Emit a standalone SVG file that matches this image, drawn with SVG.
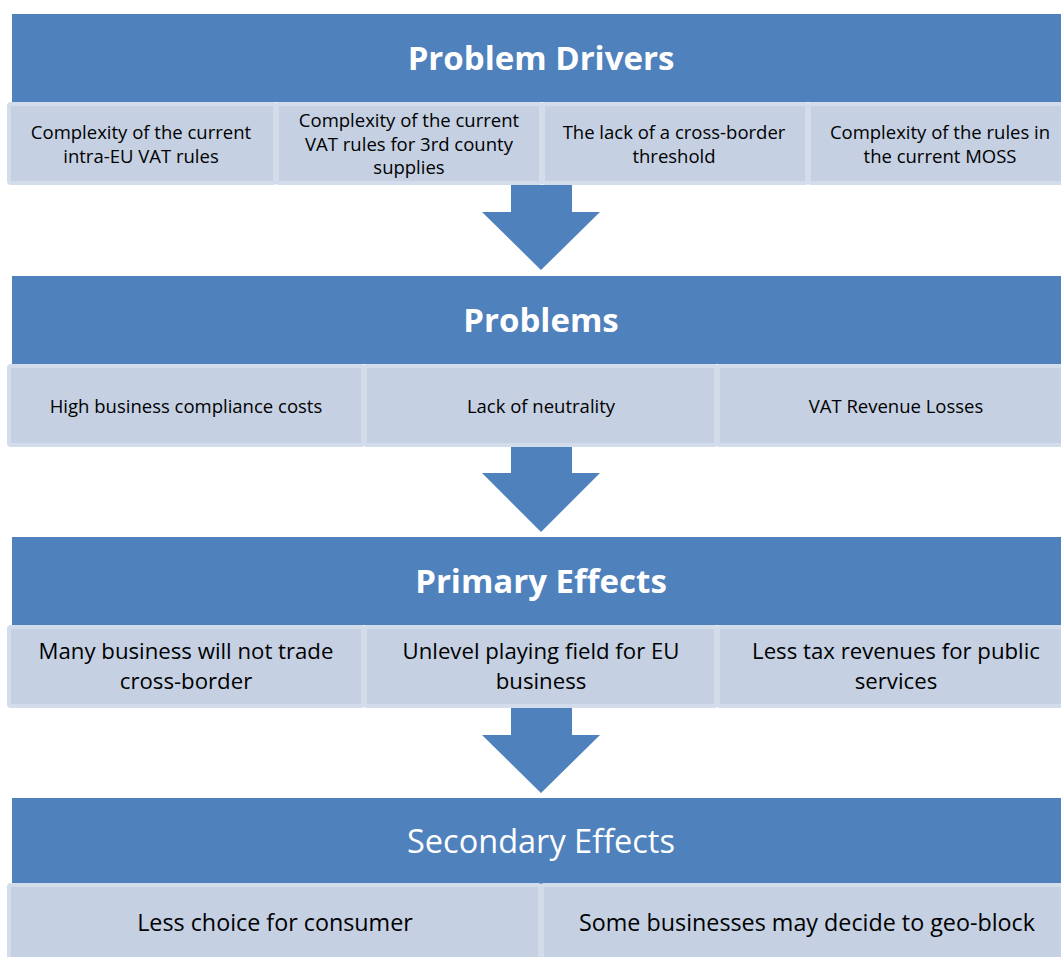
<svg xmlns="http://www.w3.org/2000/svg" width="1061" height="957" viewBox="0 0 1061 957">
<style>
.hdr{fill:#4F81BD}
.box{fill:#C5D0E3;stroke:#D3DCEB;stroke-width:4}
.arrow{fill:#4F81BD}
.title{font-family:"Open Sans","Liberation Sans",sans-serif;font-size:32.5px;fill:#fff;text-anchor:middle;dominant-baseline:central}
.b{font-weight:bold;font-size:33px}
.t1{font-family:"Open Sans","Liberation Sans",sans-serif;font-size:18.5px;fill:#000;text-anchor:middle;dominant-baseline:central}
.t2{font-family:"Open Sans","Liberation Sans",sans-serif;font-size:23.3px;fill:#000;text-anchor:middle;dominant-baseline:central}
.t3{font-family:"Open Sans","Liberation Sans",sans-serif;font-size:22.2px;fill:#000;text-anchor:middle;dominant-baseline:central}
</style>
<rect width="1061" height="957" fill="#fff"/>
<g id="connectors">
<polygon class="arrow" points="511,185 572,185 572,212 600,212 541,270 482,212 511,212"/>
<polygon class="arrow" points="511,447 572,447 572,473 600,473 541,532 482,473 511,473"/>
<polygon class="arrow" points="511,708 572,708 572,735 600,735 541,793 482,735 511,735"/>
</g>
<g id="problem-drivers">
<rect class="hdr" x="12" y="14" width="1062" height="88"/>
<text class="title b" x="541" y="57">Problem Drivers</text>
</g>
<g id="pd1"><rect class="box" x="9" y="104" width="266" height="79" rx="2"/>
<text class="t1" x="141" y="131">Complexity of the current</text><text class="t1" x="141" y="155">intra-EU VAT rules</text></g>
<g id="pd2"><rect class="box" x="277" y="104" width="264" height="79" rx="2"/>
<text class="t1" x="409" y="119">Complexity of the current</text><text class="t1" x="409" y="143">VAT rules for 3rd county</text><text class="t1" x="409" y="166">supplies</text></g>
<g id="pd3"><rect class="box" x="543" y="104" width="264" height="79" rx="2"/>
<text class="t1" x="674" y="131">The lack of a cross-border</text><text class="t1" x="674" y="155">threshold</text></g>
<g id="pd4"><rect class="box" x="809" y="104" width="264" height="79" rx="2"/>
<text class="t1" x="940" y="131">Complexity of the rules in</text><text class="t1" x="940" y="155">the current MOSS</text></g>
<g id="problems">
<rect class="hdr" x="12" y="276" width="1062" height="88"/>
<text class="title b" x="541" y="319">Problems</text>
</g>
<g id="p1"><rect class="box" x="9" y="366" width="354" height="79" rx="2"/>
<text class="t1" x="186" y="405">High business compliance costs</text></g>
<g id="p2"><rect class="box" x="365" y="366" width="351" height="79" rx="2"/>
<text class="t1" x="541" y="405">Lack of neutrality</text></g>
<g id="p3"><rect class="box" x="718" y="366" width="356" height="79" rx="2"/>
<text class="t1" x="896" y="405">VAT Revenue Losses</text></g>
<g id="primary-effects">
<rect class="hdr" x="12" y="537" width="1062" height="88"/>
<text class="title b" x="541" y="580">Primary Effects</text>
</g>
<g id="pe1"><rect class="box" x="9" y="627" width="354" height="79" rx="2"/>
<text class="t3" x="186" y="650">Many business will not trade</text><text class="t3" x="186" y="680">cross-border</text></g>
<g id="pe2"><rect class="box" x="365" y="627" width="351" height="79" rx="2"/>
<text class="t3" x="541" y="650">Unlevel playing field for EU</text><text class="t3" x="541" y="680">business</text></g>
<g id="pe3"><rect class="box" x="718" y="627" width="356" height="79" rx="2"/>
<text class="t3" x="896" y="650">Less tax revenues for public</text><text class="t3" x="896" y="680">services</text></g>
<g id="secondary-effects">
<rect class="hdr" x="12" y="798" width="1062" height="86"/>
<text class="title" x="541" y="840">Secondary Effects</text>
</g>
<g id="se1"><rect class="box" x="9" y="885" width="531" height="90" rx="2"/>
<text class="t2" x="275" y="922">Less choice for consumer</text></g>
<g id="se2"><rect class="box" x="542" y="885" width="532" height="90" rx="2"/>
<text class="t2" x="807" y="922">Some businesses may decide to geo-block</text></g>
</svg>
